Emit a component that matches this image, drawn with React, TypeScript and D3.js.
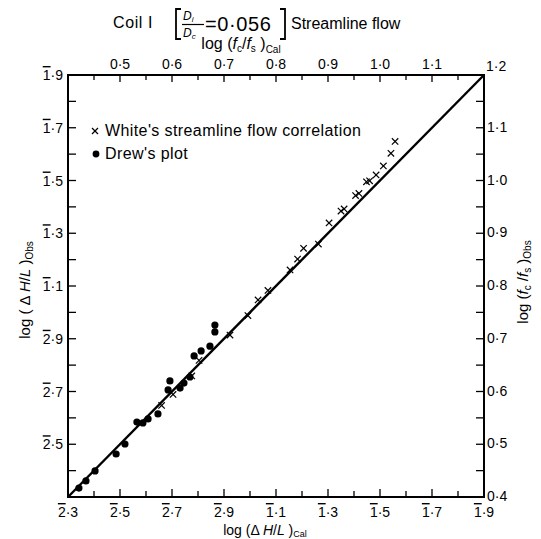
import React from "react";
import * as d3 from "d3";

// Drew's plot (log ΔH/L cal, log ΔH/L obs)
const drewX = [-1.658, -1.631, -1.596, -1.515, -1.481, -1.435, -1.412, -1.392, -1.354, -1.315, -1.308, -1.269, -1.254, -1.231, -1.215, -1.188, -1.154, -1.135, -1.135];
const drewY = [-1.666, -1.639, -1.601, -1.537, -1.499, -1.416, -1.419, -1.404, -1.385, -1.294, -1.260, -1.287, -1.268, -1.245, -1.165, -1.146, -1.128, -1.074, -1.048];

// White's streamline flow correlation
const whiteX = [-1.340, -1.296, -1.224, -1.196, -1.077, -1.008, -0.969, -0.931, -0.846, -0.817, -0.794, -0.737, -0.696, -0.650, -0.638, -0.594, -0.581, -0.552, -0.540, -0.515, -0.487, -0.458, -0.442];
const whiteY = [-1.353, -1.311, -1.241, -1.182, -1.086, -1.012, -0.953, -0.917, -0.839, -0.798, -0.757, -0.741, -0.661, -0.616, -0.608, -0.557, -0.549, -0.505, -0.501, -0.479, -0.445, -0.397, -0.352];

// theoretical line (obs = cal)
const lineX = [-1.7, -0.1];
const lineY = [-1.7, -0.1];

const bottomLabelTicks = [-1.7, -1.5, -1.3, -1.1, -0.9, -0.7, -0.5, -0.3, -0.1];
const leftLabelTicks = [-1.5, -1.3, -1.1, -0.9, -0.7, -0.5, -0.3, -0.1];
const topLabels = ["0·5", "0·6", "0·7", "0·8", "0·9", "1·0", "1·1"];
const topLabelValues = [0.5, 0.6, 0.7, 0.8, 0.9, 1.0, 1.1];
const rightLabels = ["0·4", "0·5", "0·6", "0·7", "0·8", "0·9", "1·0", "1·1"];
const rightLabelValues = [0.4, 0.5, 0.6, 0.7, 0.8, 0.9, 1.0, 1.1];

const L = 68, T = 75, W = 416, H = 422;
const FONT = "'Liberation Sans', Arial, sans-serif";

function BarLabel({ v, x, y, anchor, size }: { v: number; x: number; y: number; anchor: string; size: number }) {
  const ch = Math.floor(v + 1e-9);
  const mant = Math.round((v - ch) * 10);
  return (
    <text x={x} y={y} textAnchor={anchor as any} fontSize={size} fontFamily={FONT}>
      <tspan style={{ textDecoration: "overline" }}>{String(Math.abs(ch))}</tspan>
      <tspan>{"·" + mant}</tspan>
    </text>
  );
}

export default function App() {
  const x = d3.scaleLinear().domain([-1.7, -0.1]).range([L, L + W]);
  const y = d3.scaleLinear().domain([-1.7, -0.1]).range([T + H, T]);
  const xTop = d3.scaleLinear().domain([0.4, 1.2]).range([L, L + W]);
  const yRight = d3.scaleLinear().domain([0.4, 1.2]).range([T + H, T]);

  const tenth = d3.range(0, 17).map((i) => -1.7 + i * 0.1);
  const twentieth = d3.range(0, 17).map((i) => 0.4 + i * 0.05);

  const line = d3.line<number>().x((_, i) => x(lineX[i])).y((_, i) => y(lineY[i]));
  const cs = 3.2;

  return (
    <div style={{ position: "absolute", left: 0, top: 0 }}>
      <svg width={541} height={539} style={{ display: "block", background: "#fff" }}>
        {/* Title */}
        <text x={113} y={28} fontSize={16} fontFamily={FONT} letterSpacing={0.6}>Coil  I</text>
        <path d="M181,9 H176 V39 H181" fill="none" stroke="#000" strokeWidth={1.8} />
        <text x={183} y={20} fontSize={12} fontStyle="italic" fontFamily={FONT}>
          D<tspan fontSize={8} dy={2}>i</tspan>
        </text>
        <line x1={182} x2={204} y1={24.5} y2={24.5} stroke="#000" strokeWidth={1.2} />
        <text x={183} y={37} fontSize={12} fontStyle="italic" fontFamily={FONT}>
          D<tspan fontSize={8} dy={2}>c</tspan>
        </text>
        <text x={205} y={31} fontSize={20} fontFamily={FONT} letterSpacing={0.6}>=0·056</text>
        <path d="M280,9 H285 V39 H280" fill="none" stroke="#000" strokeWidth={1.8} />
        <text x={291} y={29} fontSize={16} fontFamily={FONT}>Streamline flow</text>
        <text x={241} y={49} fontSize={16} fontFamily={FONT} textAnchor="middle">
          log  (<tspan fontStyle="italic">f</tspan><tspan fontSize={10} dy={3}>c</tspan>
          <tspan dy={-3}>/</tspan><tspan fontStyle="italic">f</tspan><tspan fontSize={10} dy={3}>s</tspan>
          <tspan dy={-3}> )</tspan><tspan fontSize={10} dy={4}>Cal</tspan>
        </text>

        {/* Frame */}
        <rect x={L} y={T} width={W} height={H} fill="none" stroke="#000" strokeWidth={2} />

        {/* bottom ticks */}
        {tenth.map((v, i) => (
          <line key={"bt" + i} x1={x(v)} x2={x(v)} y1={T + H} y2={T + H - (i % 2 === 0 ? 8 : 6)} stroke="#000" strokeWidth={1.3} />
        ))}
        {/* left ticks */}
        {tenth.map((v, i) => (
          <line key={"lt" + i} x1={L} x2={L + 8} y1={y(v)} y2={y(v)} stroke="#000" strokeWidth={1.3} />
        ))}
        {/* top ticks */}
        {twentieth.map((v, i) => (
          <line key={"tt" + i} x1={xTop(v)} x2={xTop(v)} y1={T} y2={T + (i % 2 === 0 ? 7 : 5)} stroke="#000" strokeWidth={1.3} />
        ))}
        {/* right ticks */}
        {twentieth.map((v, i) => (
          <line key={"rt" + i} x1={L + W} x2={L + W - 8} y1={yRight(v)} y2={yRight(v)} stroke="#000" strokeWidth={1.3} />
        ))}

        {/* bottom labels */}
        {bottomLabelTicks.map((v, i) => (
          <BarLabel key={"bl" + i} v={v} x={x(v)} y={T + H + 20} anchor="middle" size={14} />
        ))}
        {/* left labels */}
        {leftLabelTicks.map((v, i) => (
          <BarLabel key={"ll" + i} v={v} x={L - 5} y={y(v) + 5} anchor="end" size={14} />
        ))}
        {/* top labels */}
        {topLabelValues.map((v, i) => (
          <text key={"tl" + i} x={xTop(v)} y={T - 6} textAnchor="middle" fontSize={14} fontFamily={FONT}>{topLabels[i]}</text>
        ))}
        <text x={L + W + 2} y={T - 4} fontSize={14} fontFamily={FONT}>1·2</text>
        {/* right labels */}
        {rightLabelValues.map((v, i) => (
          <text key={"rl" + i} x={L + W + 3} y={yRight(v) + 4} fontSize={14} fontFamily={FONT}>{rightLabels[i]}</text>
        ))}

        {/* axis titles */}
        <text x={265} y={535} textAnchor="middle" fontSize={14} fontFamily={FONT}>
          log (Δ <tspan fontStyle="italic">H</tspan>/<tspan fontStyle="italic">L</tspan> )<tspan fontSize={9} dy={2}>Cal</tspan>
        </text>
        <text transform="translate(30,290) rotate(-90)" textAnchor="middle" fontSize={15} fontFamily={FONT}>
          log ( Δ <tspan fontStyle="italic">H</tspan>/<tspan fontStyle="italic">L</tspan> )<tspan fontSize={10} dy={3}>Obs</tspan>
        </text>
        <text transform="translate(528,282) rotate(-90)" textAnchor="middle" fontSize={15} fontFamily={FONT}>
          log  (<tspan fontStyle="italic">f</tspan><tspan fontSize={10} dy={3}>c</tspan>
          <tspan dy={-3}> /</tspan><tspan fontStyle="italic">f</tspan><tspan fontSize={10} dy={3}>s</tspan>
          <tspan dy={-3}> )</tspan><tspan fontSize={10} dy={3}>Obs</tspan>
        </text>

        {/* theoretical line */}
        <path d={line(lineX) || ""} fill="none" stroke="#000" strokeWidth={2.4} />

        {/* White's crosses */}
        {whiteX.map((v, i) => (
          <g key={"w" + i} stroke="#000" strokeWidth={1.2}>
            <line x1={x(v) - cs} x2={x(v) + cs} y1={y(whiteY[i]) - cs} y2={y(whiteY[i]) + cs} />
            <line x1={x(v) - cs} x2={x(v) + cs} y1={y(whiteY[i]) + cs} y2={y(whiteY[i]) - cs} />
          </g>
        ))}
        {/* Drew's dots */}
        {drewX.map((v, i) => (
          <circle key={"d" + i} cx={x(v)} cy={y(drewY[i])} r={3.6} fill="#000" />
        ))}

        {/* legend */}
        <g stroke="#000" strokeWidth={1.2}>
          <line x1={92} x2={98} y1={128} y2={134} />
          <line x1={92} x2={98} y1={134} y2={128} />
        </g>
        <text x={105} y={136} fontSize={16} fontFamily={FONT} letterSpacing={0.4}>White's streamline flow correlation</text>
        <circle cx={96} cy={154} r={3.4} fill="#000" />
        <text x={105} y={159} fontSize={16} fontFamily={FONT} letterSpacing={0.4}>Drew's plot</text>
      </svg>
    </div>
  );
}
